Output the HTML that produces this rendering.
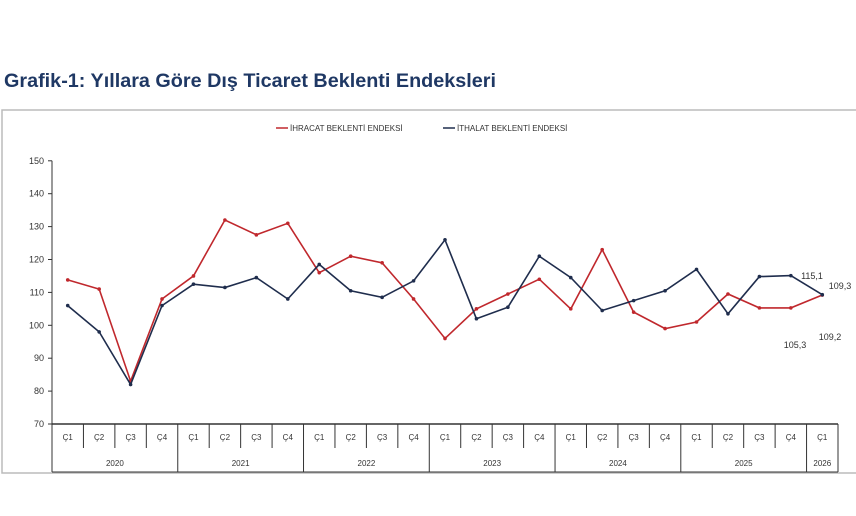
<!DOCTYPE html>
<html><head><meta charset="utf-8"><style>
body{margin:0;background:#fff;width:856px;height:511px;overflow:hidden;font-family:"Liberation Sans",sans-serif}
</style></head><body>
<svg width="856" height="511" xmlns="http://www.w3.org/2000/svg" font-family="Liberation Sans, sans-serif">
<rect width="856" height="511" fill="#fff"/>
<text x="4" y="87" font-size="19" font-weight="bold" fill="#1f3864" textLength="492" lengthAdjust="spacingAndGlyphs">Grafik-1: Yıllara Göre Dış Ticaret Beklenti Endeksleri</text>
<rect x="2" y="110" width="860" height="363" fill="#fff" stroke="#bbb" stroke-width="1.5"/>
<g font-size="8" fill="#333">
<line x1="276" y1="128" x2="288" y2="128" stroke="#c0282d" stroke-width="1.5"/><text x="290" y="131">İHRACAT BEKLENTİ ENDEKSİ</text>
<line x1="443" y1="128" x2="455" y2="128" stroke="#1f2d4d" stroke-width="1.5"/><text x="457" y="131">İTHALAT BEKLENTİ ENDEKSİ</text>
</g>
<script>
const s=document.querySelector('svg');const ns='http://www.w3.org/2000/svg';
function el(t,a,txt){const e=document.createElementNS(ns,t);for(const k in a)e.setAttribute(k,a[k]);if(txt!=null)e.textContent=txt;s.appendChild(e);return e;}
const x0=52,x1=838,w=(x1-x0)/25;const Y=v=>424-(v-70)*3.29;
el('line',{x1:x0,y1:Y(150),x2:x0,y2:472,stroke:'#333','stroke-width':1});
for(let v=70;v<=150;v+=10){el('line',{x1:x0-4,y1:Y(v),x2:x0,y2:Y(v),stroke:'#333'});el('text',{x:x0-8,y:Y(v)+3,'font-size':9,'text-anchor':'end',fill:'#333'},v);}
el('line',{x1:x0,y1:424,x2:x1,y2:424,stroke:'#333','stroke-width':1.5});
el('line',{x1:x1,y1:424,x2:x1,y2:472,stroke:'#333'});
for(let i=0;i<25;i++){const xl=x0+i*w;if(i>0)el('line',{x1:xl,y1:424,x2:xl,y2:i%4==0?472:448,stroke:'#333'});
el('text',{x:xl+w/2,y:440,'font-size':8,'text-anchor':'middle',fill:'#333'},'Ç'+(i%4+1));}
el('line',{x1:x0,y1:472,x2:x1,y2:472,stroke:'#333'});
const yrs=['2020','2021','2022','2023','2024','2025'];
yrs.forEach((y,k)=>el('text',{x:x0+(k*4+2)*w,y:466,'font-size':8,'text-anchor':'middle',fill:'#333'},y));
el('text',{x:x0+24.5*w,y:466,'font-size':8,'text-anchor':'middle',fill:'#333'},'2026');
const ih=[113.8,111,83,108,115,132,127.5,131,116,121,119,108,96,105,109.5,114,105,123,104,99,101,109.5,105.3,105.3,109.2];
const it=[106,98,82,106,112.5,111.5,114.5,108,118.5,110.5,108.5,113.5,126,102,105.5,121,114.5,104.5,107.5,110.5,117,103.5,114.8,115.1,109.3];
function ser(d,c){const p=d.map((v,i)=>(x0+w*(i+0.5)).toFixed(1)+','+Y(v).toFixed(1)).join(' ');
el('polyline',{points:p,fill:'none',stroke:c,'stroke-width':1.6});d.forEach((v,i)=>el('circle',{cx:x0+w*(i+0.5),cy:Y(v),r:1.8,fill:c}));}
ser(ih,'#c0282d');ser(it,'#1f2d4d');
el('text',{x:812,y:279,'font-size':9,'text-anchor':'middle',fill:'#333'},'115,1');
el('text',{x:840,y:289,'font-size':9,'text-anchor':'middle',fill:'#333'},'109,3');
el('text',{x:795,y:348,'font-size':9,'text-anchor':'middle',fill:'#333'},'105,3');
el('text',{x:830,y:340,'font-size':9,'text-anchor':'middle',fill:'#333'},'109,2');
</script>
</svg>
</body></html>
